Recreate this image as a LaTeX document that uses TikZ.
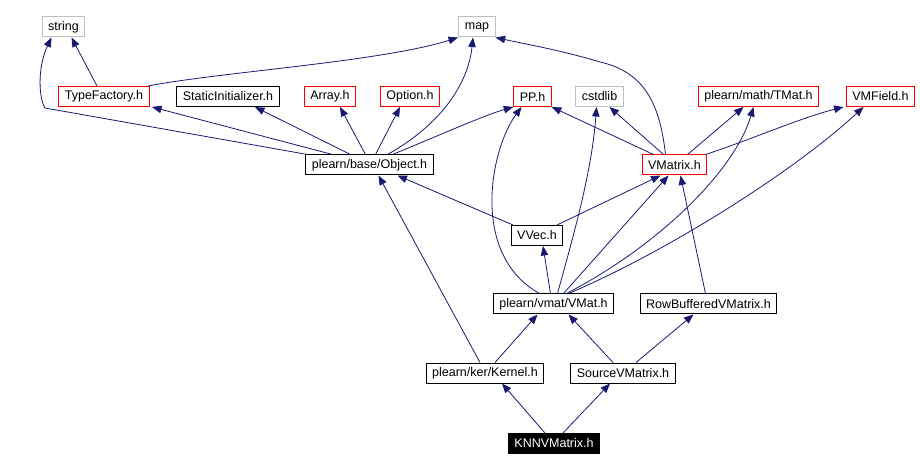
\documentclass[tikz,border=0pt]{standalone}
\usepackage{fontspec}
\setmainfont{Liberation Sans}
\usetikzlibrary{arrows.meta}
\definecolor{navyx}{HTML}{191970}
\definecolor{grayx}{HTML}{BFBFBF}
\definecolor{redx}{HTML}{FF0000}
\tikzset{
  hf/.style={draw=black,line width=1pt,fill=white,minimum height=20pt,inner xsep=6pt,inner ysep=0pt,font=\fontsize{12.5}{14}\selectfont},
  hr/.style={hf,draw=redx},
  hg/.style={hf,draw=grayx},
  hs/.style={hf,fill=black,text=white},
  ed/.style={-{Triangle[length=9.5pt,width=7.5pt]},navyx,line width=0.8pt}
}

\begin{document}
\begin{tikzpicture}[x=1pt,y=-1pt]
\useasboundingbox (0,0) rectangle (921,470);
% top row
\node[hg] (string) at (63.5,27) {string};
\node[hg] (map) at (477,27) {map};
% second row
\node[hr] (tf) at (104,96.5) {TypeFactory.h};
\node[hf] (si) at (228,96.5) {StaticInitializer.h};
\node[hr] (arr) at (330,96.5) {Array.h};
\node[hr] (opt) at (410,96.5) {Option.h};
\node[hr] (pp) at (532.5,96.5) {PP.h};
\node[hg] (cstd) at (599.5,96.5) {cstdlib};
\node[hr] (tmat) at (758.5,96.5) {plearn/math/TMat.h};
\node[hr] (vmf) at (880.5,96.5) {VMField.h};
% middle
\node[hf] (obj) at (369.5,165) {plearn/base/Object.h};
\node[hr] (vmx) at (674.5,165) {VMatrix.h};
\node[hf] (vvec) at (537,235.5) {VVec.h};
\node[hf] (vmat) at (553.5,304) {plearn/vmat/VMat.h};
\node[hf] (rbv) at (708.5,304) {RowBufferedVMatrix.h};
\node[hf] (ker) at (485,373) {plearn/ker/Kernel.h};
\node[hf] (svm) at (623,373) {SourceVMatrix.h};
\node[hs] (knn) at (554,443.5) {KNNVMatrix.h};

% includes of TypeFactory.h and Object.h
\draw[ed] ([xshift=-7]tf.north) -- ([xshift=8]string.south);
\draw[ed] ([xshift=44]tf.north) .. controls (220,72) and (380,62) .. ([xshift=-19]map.south);
\draw[ed] ([xshift=-62]obj.north) -- (45,108) .. controls (39,99) and (37,68) .. ([xshift=-12]string.south);
\draw[ed] ([xshift=-37]obj.north) -- ([xshift=48]tf.south);
\draw[ed] ([xshift=-19]obj.north) -- ([xshift=27]si.south);
\draw[ed] ([xshift=-4]obj.north) -- ([xshift=10]arr.south);
\draw[ed] ([xshift=6]obj.north) -- ([xshift=-10]opt.south);
\draw[ed] ([xshift=18]obj.north) .. controls (440,125) and (468,85) .. ([xshift=-4]map.south);
\draw[ed] ([xshift=23]obj.north) .. controls (440,135) and (485,115) .. (pp.south west);
% includes of VMatrix.h
\draw[ed] ([xshift=-21]vmx.north) -- (pp.south east);
\draw[ed] ([xshift=-11]vmx.north) -- ([xshift=10]cstd.south);
\draw[ed] ([xshift=-9]vmx.north) .. controls (660,105) and (645,72) .. (600,62) .. controls (560,50) and (525,44) .. (map.south east);
\draw[ed] ([xshift=13]vmx.north) -- ([xshift=-15]tmat.south);
\draw[ed] ([xshift=31]vmx.north) .. controls (750,140) and (800,118) .. ([xshift=-37]vmf.south);
% VVec.h
\draw[ed] ([xshift=-24]vvec.north) -- ([xshift=28]obj.south);
\draw[ed] ([xshift=20]vvec.north) -- ([xshift=-14]vmx.south);
% plearn/vmat/VMat.h
\draw[ed] ([xshift=-3]vmat.north) -- ([xshift=6]vvec.south);
\draw[ed] ([xshift=-14]vmat.north) .. controls (470,255) and (490,150) .. ([xshift=-11]pp.south);
\draw[ed] ([xshift=4]vmat.north) .. controls (575,230) and (592,170) .. ([xshift=-3]cstd.south);
\draw[ed] ([xshift=10]vmat.north) -- ([xshift=-6]vmx.south);
\draw[ed] ([xshift=13]vmat.north) .. controls (660,245) and (735,170) .. ([xshift=-5]tmat.south);
\draw[ed] ([xshift=15]vmat.north) .. controls (660,255) and (790,175) .. ([xshift=-17]vmf.south);
% lower part
\draw[ed] ([xshift=-3]rbv.north) -- ([xshift=6]vmx.south);
\draw[ed] ([xshift=-5]ker.north) -- ([xshift=9]obj.south);
\draw[ed] ([xshift=10]ker.north) -- ([xshift=-16]vmat.south);
\draw[ed] ([xshift=-10]svm.north) -- ([xshift=15]vmat.south);
\draw[ed] ([xshift=13]svm.north) -- ([xshift=-15]rbv.south);
\draw[ed] ([xshift=-9]knn.north) -- ([xshift=17]ker.south);
\draw[ed] ([xshift=9]knn.north) -- ([xshift=-13]svm.south);
\end{tikzpicture}
\end{document}
